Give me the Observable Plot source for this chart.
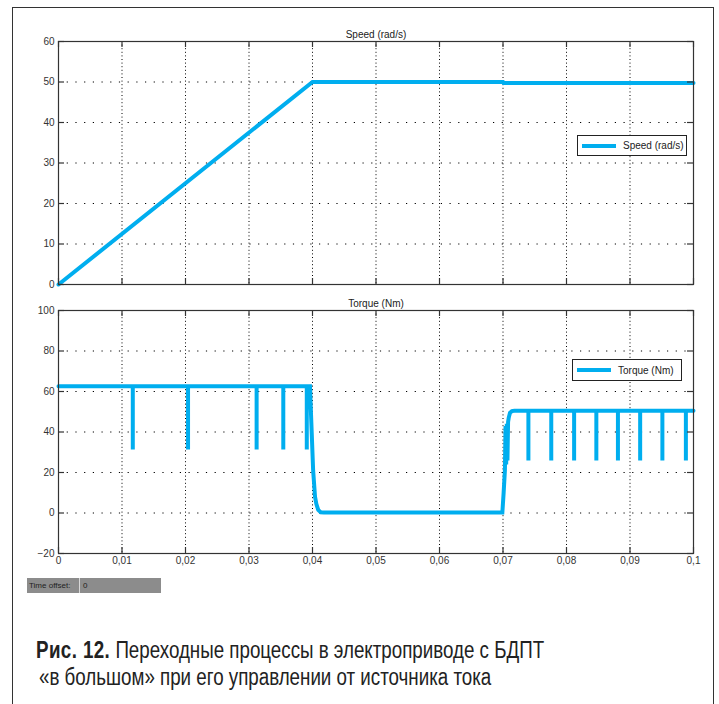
<!DOCTYPE html>
<html><head><meta charset="utf-8">
<script src="https://cdn.jsdelivr.net/npm/d3@7"></script>
<script src="https://cdn.jsdelivr.net/npm/@observablehq/plot@0.6"></script>
<style>
body{margin:0;background:#fff;}
#page{position:relative;width:719px;height:704px;overflow:hidden;font-family:"Liberation Sans",Arial,sans-serif;background:#fff;}
#frame{position:absolute;left:12px;top:7px;width:700px;height:740px;border:1px solid #333;}
.chart{position:absolute;left:0;}
.legend{position:absolute;border:1px solid #222;background:#fff;font-size:10px;color:#222;display:flex;align-items:center;box-sizing:border-box;}
.legend .sw{width:34px;height:4px;background:#00aeef;margin:0 7px 0 4px;}
#offset{position:absolute;left:27px;top:578px;width:134px;height:15px;background:#8c8c8c;font-size:8px;color:#222;}
#offset .lab{position:absolute;left:2px;top:3px;}
#offset .div{position:absolute;left:52px;top:0;width:1px;height:15px;background:#d8d8d8;}
#offset .val{position:absolute;left:56px;top:3px;}
.cap{position:absolute;font-family:"Liberation Sans",Arial,sans-serif;font-size:23px;color:#222;white-space:nowrap;transform:scaleX(0.815);transform-origin:0 0;}
.cap b{font-weight:bold;letter-spacing:0.5px;}
</style>
</head><body>
<div id="page">
  <div id="frame"></div>
  <div id="top" class="chart" style="top:0px"></div>
  <div id="bottom" class="chart" style="top:300px"></div>
  <div class="legend" style="left:577px;top:135px;width:110px;height:21px"><div class="sw"></div><span>Speed (rad/s)</span></div>
  <div class="legend" style="left:572px;top:359px;width:110px;height:22px"><div class="sw"></div><span>Torque (Nm)</span></div>
  <div id="offset"><span class="lab">Time offset:</span><div class="div"></div><span class="val">0</span></div>
  <div class="cap" style="left:36px;top:637px"><b>Рис. 12.</b> Переходные процессы в электроприводе с БДПТ</div>
  <div class="cap" style="left:39px;top:664px">«в большом» при его управлении от источника тока</div>
</div>
<script>
// ---- data ----
const timeTicks = [0, 0.01, 0.02, 0.03, 0.04, 0.05, 0.06, 0.07, 0.08, 0.09, 0.1];
const timeTickLabels = ["0", "0,01", "0,02", "0,03", "0,04", "0,05", "0,06", "0,07", "0,08", "0,09", "0,1"];
const speedTicks = [0, 10, 20, 30, 40, 50, 60];
const torqueTicks = [-20, 0, 20, 40, 60, 80, 100];
const torqueTickLabels = ["\u221220", "0", "20", "40", "60", "80", "100"];

const speedTitle = "Speed (rad/s)";
const torqueTitle = "Torque (Nm)";

const speedTime  = [0, 0.04, 0.07, 0.0701, 0.1];
const speedValue = [0, 50, 50, 49.75, 49.75];

const torqueTime = [
  0,
  0.0117, 0.0117, 0.0117,
  0.0204, 0.0204, 0.0204,
  0.0312, 0.0312, 0.0312,
  0.0354, 0.0354, 0.0354,
  0.0391, 0.0391, 0.0391,
  0.0396, 0.0398, 0.0401, 0.0404, 0.0406, 0.0409, 0.0413, 0.0418,
  0.0699, 0.0701, 0.0703, 0.0704, 0.0705, 0.0706, 0.0707, 0.0708, 0.0709, 0.0711, 0.0714, 0.0718,
  0.0740, 0.0740, 0.0740,
  0.0776, 0.0776, 0.0776,
  0.0812, 0.0812, 0.0812,
  0.0847, 0.0847, 0.0847,
  0.0881, 0.0881, 0.0881,
  0.0916, 0.0916, 0.0916,
  0.0951, 0.0951, 0.0951,
  0.0988, 0.0988, 0.0988,
  0.1
];
const torqueValue = [
  62.6,
  62.6, 31.4, 62.6,
  62.6, 31.4, 62.6,
  62.6, 31.4, 62.6,
  62.6, 31.4, 62.6,
  62.6, 31.4, 62.6,
  62.6, 46, 21, 8, 4.5, 1.5, 0.4, 0.3,
  0.3, 10, 21, 43, 24, 44, 26, 45, 47, 49.5, 50.3, 50.5,
  50.5, 25.9, 50.5,
  50.5, 25.9, 50.5,
  50.5, 25.9, 50.5,
  50.5, 25.9, 50.5,
  50.5, 25.9, 50.5,
  50.5, 25.9, 50.5,
  50.5, 25.9, 50.5,
  50.5, 25.9, 50.5,
  50.5
];

// ---- layout ----
const W = 719, mL = 58, mR = 26;
const innerW = W - mL - mR;
const lineColor = "#00aeef";
const axisColor = "#333";
const tickLen = 6;

function panel({height, mT, mB, yDomain, yTicks, yFormat, data, title, showX}) {
  const innerH = height - mT - mB;
  const marks = [
    Plot.gridY(yTicks, {stroke: "#000", strokeOpacity: 1, strokeDasharray: "1.2,7.5"}),
    Plot.gridX(timeTicks, {stroke: "#000", strokeOpacity: 1, strokeDasharray: "1,2.6"}),
    Plot.line(data, {x: "t", y: "v", stroke: lineColor, strokeWidth: 4, strokeLinejoin: "miter", strokeMiterlimit: 2}),
    Plot.frame({stroke: axisColor, strokeWidth: 1.2}),
    Plot.tickY(yTicks, {y: d => d, insetRight: innerW - tickLen, stroke: axisColor, strokeWidth: 1.2}),
    Plot.tickY(yTicks, {y: d => d, insetLeft: innerW - tickLen, stroke: axisColor, strokeWidth: 1.2}),
    Plot.tickX(timeTicks, {x: d => d, insetBottom: innerH - tickLen, stroke: axisColor, strokeWidth: 1.2}),
    Plot.tickX(timeTicks, {x: d => d, insetTop: innerH - tickLen, stroke: axisColor, strokeWidth: 1.2}),
    Plot.axisY(yTicks, {tickSize: 0, tickPadding: 4, label: null, tickFormat: yFormat, fontSize: 10}),
    Plot.text([title], {frameAnchor: "top", lineAnchor: "bottom", dy: -4, fontSize: 10, fill: "#222"})
  ];
  if (showX) {
    marks.push(Plot.axisX(timeTicks, {tickSize: 0, tickPadding: 3, label: null,
      tickFormat: d => timeTickLabels[timeTicks.indexOf(d)], fontSize: 10}));
  }
  return Plot.plot({
    width: W, height,
    marginLeft: mL, marginRight: mR, marginTop: mT, marginBottom: mB,
    x: {domain: [0, 0.1], axis: null},
    y: {domain: yDomain, axis: null},
    style: {fontFamily: "'Liberation Sans', Arial, sans-serif", color: axisColor, background: "transparent", overflow: "visible"},
    marks
  });
}

const speedData = speedTime.map((t, i) => ({t, v: speedValue[i]}));
const torqueData = torqueTime.map((t, i) => ({t, v: torqueValue[i]}));

document.getElementById("top").append(panel({
  height: 300, mT: 41, mB: 16, yDomain: [0, 60], yTicks: speedTicks,
  yFormat: d => String(d), data: speedData, title: speedTitle, showX: false
}));
document.getElementById("bottom").append(panel({
  height: 275, mT: 10, mB: 22, yDomain: [-20, 100], yTicks: torqueTicks,
  yFormat: d => torqueTickLabels[torqueTicks.indexOf(d)], data: torqueData, title: torqueTitle, showX: true
}));
</script>
</body></html>
